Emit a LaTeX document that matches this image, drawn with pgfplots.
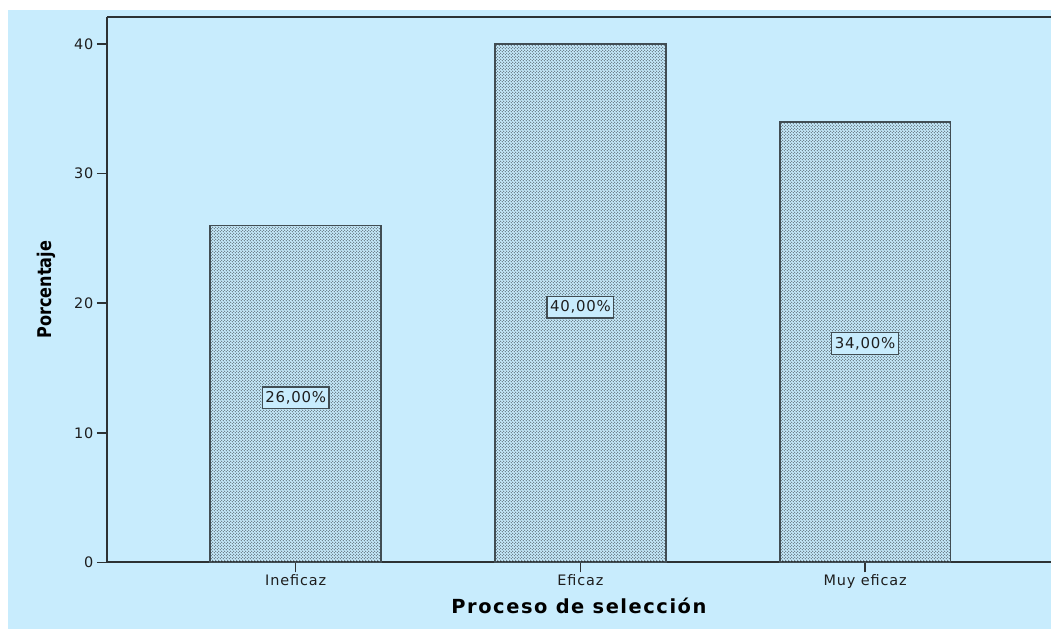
\documentclass[border=0pt]{standalone}
\usepackage{pgfplots}
\pgfplotsset{compat=1.18}
\usetikzlibrary{patterns}
\usepackage{fontspec}
\setmainfont{DejaVu Sans}
\definecolor{bgblue}{RGB}{200,236,253}
\definecolor{axgray}{RGB}{45,50,52}
\definecolor{bargray}{RGB}{65,77,83}
\definecolor{dotgray}{RGB}{80,95,104}
\definecolor{txt}{RGB}{30,30,30}
\pgfdeclarepatternformonly{spssdots}{\pgfpointorigin}{\pgfpoint{3bp}{3bp}}{\pgfpoint{3bp}{3bp}}{%
  \pgfpathcircle{\pgfpoint{0.75bp}{0.75bp}}{0.6bp}%
  \pgfpathcircle{\pgfpoint{2.25bp}{2.25bp}}{0.6bp}%
  \pgfusepath{fill}}
\begin{document}
\begin{tikzpicture}
\fill[white] (0,0) rectangle (1052bp,630bp);
\fill[bgblue] (8bp,0) rectangle (1052bp,620bp);
\begin{axis}[
  at={(107bp,67bp)}, anchor=south west,
  scale only axis, width=945bp, height=546bp,
  xmin=-0.663, xmax=2.653, ymin=0, ymax=42.08,
  axis x line=box, axis y line=left,
  axis line style={-, line width=2bp, draw=axgray},
  xtick pos=bottom, ytick pos=left,
  ytick={0,10,20,30,40},
  xtick={0,1,2},
  xticklabels={Ineficaz,Eficaz,Muy eficaz},
  tick align=outside,
  major tick length=10bp,
  /pgf/number format/assume math mode=true,
  tick style={line width=1.6bp, draw=axgray},
  ticklabel style={text=txt, font=\fontsize{14.5}{16}\selectfont\addfontfeatures{LetterSpace=6}},
  xticklabel style={yshift=1bp},
  xlabel={\fontsize{19.5}{21}\selectfont\bfseries\addfontfeatures{LetterSpace=8}Proceso de selección},
  xlabel style={at={(axis description cs:0.5,0)}, anchor=center, yshift=-43bp, text=black},
  ylabel={\scalebox{0.85}[1]{\fontsize{19}{21}\selectfont\bfseries Porcentaje}},
  ylabel style={at={(axis description cs:-0.0646,0.5)}, anchor=center, text=black},
  clip=false,
]
\addplot[ybar, bar width=0.6, draw=bargray, line width=1.8bp,
  pattern=spssdots, pattern color=dotgray]
  coordinates {(0,26) (1,40) (2,34)};
\addplot[draw=none, mark=none,
  nodes near coords, point meta=explicit symbolic,
  every node near coord/.style={anchor=center, draw=bargray, fill=bgblue,
    line width=1.3bp, inner xsep=3bp, inner ysep=4.5bp, text=txt,
    font=\fontsize{15}{16}\selectfont\addfontfeatures{LetterSpace=5}}]
  coordinates {(0,12.7) [26,00\%] (1,19.7) [40,00\%] (2,16.9) [34,00\%]};
\end{axis}
\end{tikzpicture}
\end{document}
